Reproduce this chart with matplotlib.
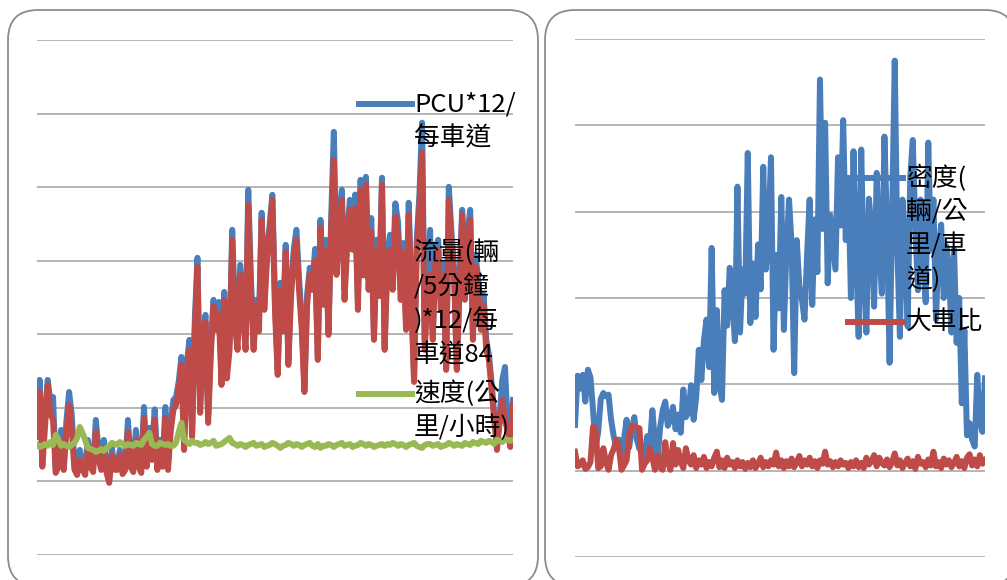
import matplotlib
matplotlib.use("Agg")
import matplotlib.pyplot as plt
from matplotlib.patches import FancyBboxPatch
from matplotlib.lines import Line2D

plt.rcParams['font.family'] = ['Noto Sans CJK TC', 'DejaVu Sans']

# ---- left panel data (5-minute samples) ----
pcu = [459, 595, 330, 476, 595, 520, 537, 289, 325, 425, 316, 455, 554, 476, 305,
       289, 357, 300, 289, 391, 320, 306, 459, 360, 323, 391, 295, 262, 364, 300,
       306, 357, 285, 306, 459, 320, 306, 425, 320, 296, 503, 320, 432, 350, 495,
       316, 391, 320, 503, 316, 450, 527, 537, 590, 673, 391, 650, 731, 425, 795,
       1010, 510, 735, 816, 476, 715, 867, 792, 860, 602, 894, 630, 724, 1105, 815,
       748, 986, 860, 731, 1241, 940, 714, 867, 795, 1163, 867, 1040, 1122, 1224, 865,
       629, 925, 795, 1054, 663, 915, 1037, 1105, 940, 799, 568, 885, 976, 925, 1040,
       680, 1139, 885, 1071, 765, 1145, 1438, 976, 1145, 1241, 901, 1090, 1207, 1081, 1225,
       867, 1275, 990, 1285, 935, 1145, 748, 1071, 915, 1282, 714, 1020, 1088, 935, 1195,
       1132, 901, 1060, 799, 1197, 885, 602, 1071, 1225, 1469, 731, 915, 1105, 748, 1040,
       1071, 867, 990, 636, 1251, 1095, 969, 636, 935, 1173, 901, 1100, 1173, 765, 1020,
       935, 799, 885, 731, 680, 585, 476, 374, 470, 595, 639, 440, 391, 527]
flow = [401, 554, 300, 435, 578, 480, 459, 279, 300, 391, 289, 420, 510, 425, 290,
        272, 323, 290, 272, 357, 300, 282, 418, 330, 289, 364, 280, 245, 340, 290,
        289, 340, 275, 289, 418, 300, 282, 391, 300, 279, 466, 300, 391, 323, 460,
        289, 357, 300, 466, 289, 420, 493, 510, 560, 646, 357, 620, 697, 401, 760,
        979, 483, 700, 792, 449, 680, 847, 765, 820, 578, 867, 600, 697, 1071, 780,
        697, 952, 820, 697, 1190, 900, 697, 850, 760, 1139, 833, 1000, 1098, 1207, 830,
        612, 901, 760, 1030, 646, 880, 1003, 1071, 900, 765, 554, 850, 952, 901, 1000,
        663, 1112, 850, 1037, 748, 1100, 1343, 952, 1100, 1207, 867, 1050, 1173, 1037, 1180,
        833, 1241, 950, 1258, 901, 1100, 731, 1037, 880, 1258, 697, 980, 1037, 901, 1150,
        1088, 867, 1020, 765, 1156, 850, 588, 1037, 1180, 1367, 697, 880, 952, 731, 1000,
        1037, 833, 950, 629, 1207, 1050, 935, 629, 900, 1156, 867, 1060, 1139, 731, 980,
        901, 765, 850, 697, 663, 560, 459, 357, 450, 527, 459, 420, 367, 510]
speed = [374, 367, 371, 377, 371, 384, 374, 408, 391, 371, 377, 371, 367, 374, 381,
         398, 435, 415, 391, 364, 360, 357, 350, 354, 360, 354, 364, 371, 381, 377,
         374, 384, 377, 371, 377, 374, 371, 381, 377, 374, 391, 401, 415, 377, 371,
         371, 381, 377, 374, 377, 371, 371, 381, 418, 449, 391, 384, 377, 388, 381,
         381, 374, 377, 384, 377, 381, 388, 371, 374, 377, 384, 391, 398, 381, 377,
         371, 377, 374, 367, 374, 377, 381, 371, 374, 377, 367, 371, 374, 381, 377,
         371, 364, 371, 374, 381, 377, 371, 377, 374, 367, 374, 377, 381, 371, 367,
         377, 364, 371, 371, 377, 374, 367, 374, 377, 381, 371, 374, 377, 367, 371,
         374, 381, 377, 371, 377, 374, 367, 371, 374, 377, 371, 377, 374, 381, 377,
         371, 377, 374, 367, 374, 377, 381, 371, 367, 364, 374, 377, 377, 371, 374,
         377, 367, 371, 374, 381, 377, 371, 377, 374, 371, 381, 377, 374, 384, 381,
         377, 388, 384, 381, 388, 384, 377, 391, 388, 384, 394, 391, 388, 391]

# ---- right panel data ----
density = [15.3, 21.0, 19.5, 21.1, 18.0, 21.7, 20.8, 17.0, 12.7, 14.5,
           18.3, 19.0, 18.6, 18.8, 15.9, 14.0, 12.7, 13.6, 11.5, 13.6,
           15.9, 12.7, 14.8, 16.2, 13.6, 12.5, 12.7, 11.8, 14.0, 12.7,
           17.0, 13.5, 11.2, 15.0, 17.0, 18.0, 15.2, 15.9, 17.4, 14.8,
           16.5, 14.4, 19.4, 16.2, 16.7, 19.9, 15.9, 18.5,
           24.0, 20.5, 25.1, 27.5, 22.0, 35.8, 19.0, 28.6, 20.2, 18.2,
           30.9, 26.8, 33.5, 29.8, 25.0, 42.9, 26.0, 33.3, 30.5, 46.8,
           27.1, 34.0, 27.8, 36.2, 31.0, 45.2, 33.3, 37.5, 46.3, 24.0,
           35.0, 28.8, 41.7, 26.3, 35.5, 41.4, 36.2, 21.3, 36.7, 31.4,
           29.8, 27.5, 35.0, 41.4, 29.2, 39.1, 33.0, 55.3, 38.0, 50.3,
           31.7, 39.6, 36.5, 33.3, 46.3, 38.4, 50.6, 36.7, 43.7, 30.0,
           47.0, 35.4,
           25.5, 47.2, 33.0, 26.0, 41.5, 37.9, 29.0, 44.5, 35.6, 30.5,
           48.7, 38.0, 22.5, 40.0, 57.5, 35.6, 25.5, 41.4, 35.6, 26.7,
           44.0, 48.3, 37.9, 30.9, 41.4, 34.4, 29.5, 48.0, 35.6, 41.4,
           27.5, 35.6, 38.5, 30.0, 36.0, 33.5, 26.0, 35.6, 24.8, 30.0,
           17.8, 26.3, 14.1, 15.5, 13.6, 12.8, 21.1, 15.9, 14.5, 20.7]
heavy_ratio = [12.2, 10.5, 10.7, 11.2, 10.2, 10.4, 11.0, 15.1, 14.8, 10.3,
               10.5, 12.6, 11.0, 10.1, 11.8, 12.5, 13.6, 12.8, 10.1, 10.6,
               11.2, 14.0, 15.1, 15.1, 15.0, 14.9, 10.1, 10.8, 11.2, 12.6,
               11.5, 10.1, 11.8, 10.4, 10.1, 13.3, 11.0, 10.1, 13.2, 10.7,
               12.4, 11.0, 10.3, 12.6, 11.2,
               10.7, 11.8, 10.3, 11.2, 10.7, 11.6, 10.3, 11.0, 10.5, 11.5,
               12.2, 10.4, 11.2, 10.3, 11.5, 10.7, 11.0, 10.3, 11.2, 10.5,
               11.0, 10.2, 10.9, 10.4, 11.2, 10.3, 10.8, 11.5, 10.4, 11.0,
               10.5, 11.2, 10.7, 12.1, 10.5, 11.2, 10.3, 11.1, 10.5, 11.4,
               10.4, 11.0, 11.7, 10.5, 11.2, 10.7, 11.5, 10.5, 11.1, 10.3,
               11.2, 10.8, 12.2, 10.7, 11.1, 10.4, 11.0, 10.5, 11.2, 10.7,
               10.9, 10.3, 11.0, 10.5, 11.2, 10.4, 10.9, 10.3, 11.5, 10.7,
               11.1, 11.8, 10.5, 11.5, 10.9, 10.6, 11.3, 10.4, 11.0, 12.0,
               10.6, 11.2, 10.3, 10.9, 11.4, 10.5, 11.1, 10.2, 11.6, 10.8,
               11.0, 10.4, 11.3, 10.6, 12.2, 10.5, 11.0, 10.3, 11.4, 10.7,
               11.2, 10.4, 10.9, 11.6, 10.5, 11.1, 10.3, 11.5, 11.9, 10.6,
               11.3, 10.5, 11.8, 10.8, 11.2]

left_labels = ['PCU*12/\n每車道', '流量(輛\n/5分鐘\n)*12/每\n車道84', '速度(公\n里/小時)']
right_labels = ['密度(\n輛/公\n里/車\n道)', '大車比']

blue = '#4a7ebb'
red = '#be4b48'
green = '#98b954'
grid_c = '#a0a0a0'
lw = 4.3

W, H = 1007, 580
fig = plt.figure(figsize=(W / 100, H / 100), dpi=100)


def fx(x):
    return x / W


def fy(y):
    return (H - y) / H


# rounded panel frames (in inches so corners stay round)
for x0, x1 in [(8, 538), (545, 1015)]:
    box = FancyBboxPatch((x0 / 100, -0.06), (x1 - x0) / 100, (H - 10) / 100 + 0.06,
                         boxstyle="round,pad=0,rounding_size=0.3",
                         transform=fig.dpi_scale_trans,
                         facecolor='white', edgecolor='#8c8c8c', linewidth=1.3,
                         zorder=-5)
    fig.add_artist(box)


def style(ax, top, step):
    ax.set_facecolor('none')
    for s in ax.spines.values():
        s.set_visible(False)
    ax.set_ylim(0, top)
    ax.set_yticks([i * step for i in range(int(top / step) + 1)])
    ax.tick_params(length=0, labelleft=False, labelbottom=False)
    ax.set_xticks([])
    ax.grid(axis='y', color=grid_c, linewidth=1.1)
    ax.set_axisbelow(True)


# left chart
ax1 = fig.add_axes([fx(37), fy(555), fx(513) - fx(37), fy(40) - fy(555)])
style(ax1, 1750, 250)
xl = range(len(flow))
ax1.plot(xl, pcu, color=blue, linewidth=lw)
ax1.plot(xl, flow, color=red, linewidth=lw)
ax1.plot(range(len(speed)), speed, color=green, linewidth=lw)
ax1.set_xlim(0, len(flow) - 1)

# right chart
ax2 = fig.add_axes([fx(575), fy(557), fx(985) - fx(575), fy(39) - fy(557)])
style(ax2, 60, 10)
xr = range(len(density))
ax2.plot(xr, density, color=blue, linewidth=lw)
ax2.plot(range(len(heavy_ratio)), heavy_ratio, color=red, linewidth=lw)
ax2.set_xlim(0, len(density) - 1)


def legend_entry(color, kx0, kx1, tx, ty, label):
    fig.add_artist(Line2D([fx(kx0), fx(kx1)], [fy(ty), fy(ty)], color=color,
                          linewidth=lw, transform=fig.transFigure, zorder=4))
    for k, line in enumerate(label.split('\n')):
        fig.text(fx(tx), fy(ty + 34 * k), line, fontsize=18.5,
                 ha='left', va='center', color='black', zorder=5)


legend_entry(blue, 359, 412, 414, 104, left_labels[0])
legend_entry(red, 365, 410, 414, 253, left_labels[1])
legend_entry(green, 359, 412, 414, 394, left_labels[2])
legend_entry(blue, 848, 903, 906, 178, right_labels[0])
legend_entry(red, 848, 903, 906, 322, right_labels[1])

fig.savefig('out.png', dpi=100, facecolor='white')
